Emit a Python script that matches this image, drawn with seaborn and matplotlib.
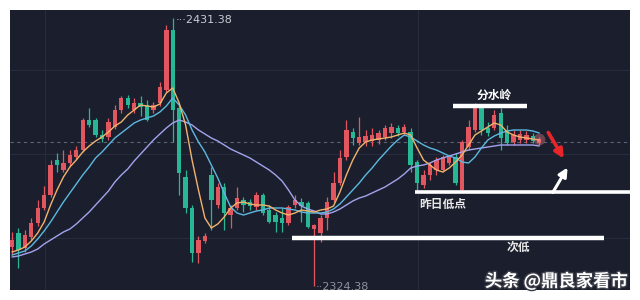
import matplotlib
matplotlib.use("Agg")
import matplotlib.pyplot as plt
import matplotlib.patheffects as pe
import numpy as np
import pandas as pd
import seaborn as sns

# ---------------- data ----------------
opens = [2339.8, 2345.4, 2339.4, 2343.8, 2349.4, 2355.4, 2360.6, 2374.6, 2370.6, 2373.4,
         2375.8, 2378.6, 2390.6, 2390.6, 2384.6, 2383.8, 2387.8, 2394.6, 2399.4, 2394.6,
         2397.4, 2396.6, 2394.6, 2397.4, 2402.6, 2426.6, 2395.4, 2367.8, 2355.4, 2337.4,
         2342.2, 2368.6, 2356.6, 2363.8, 2352.6, 2355.4, 2358.6, 2357.8, 2355.8, 2360.6,
         2354.6, 2352.6, 2351.4, 2349.4, 2356.6, 2357.8, 2357.4, 2347.0, 2345.4, 2351.4,
         2358.6, 2365.4, 2375.8, 2385.8, 2381.4, 2381.8, 2382.2, 2382.6, 2383.8, 2385.4,
         2387.4, 2385.8, 2385.8, 2373.8, 2364.6, 2368.6, 2370.6, 2370.6, 2373.4, 2375.8,
         2362.6, 2379.8, 2386.6, 2395.8, 2387.4, 2387.4, 2393.4, 2386.6, 2381.8, 2382.6,
         2382.6, 2384.2, 2381.4]
highs = [2345.8, 2347.4, 2346.6, 2351.4, 2358.6, 2364.2, 2374.6, 2377.4, 2378.6, 2378.6,
         2380.2, 2391.4, 2395.4, 2391.4, 2386.6, 2391.4, 2396.6, 2400.2, 2400.6, 2399.4,
         2400.2, 2398.6, 2397.8, 2405.8, 2428.6, 2431.38, 2396.6, 2370.6, 2356.6, 2344.2,
         2345.4, 2371.8, 2365.4, 2365.4, 2356.6, 2363.8, 2359.8, 2359.0, 2361.8, 2361.4,
         2356.6, 2353.8, 2355.4, 2356.6, 2360.6, 2359.4, 2358.2, 2349.0, 2352.6, 2359.8,
         2369.8, 2378.6, 2390.6, 2387.4, 2391.8, 2386.6, 2387.4, 2386.6, 2388.6, 2389.4,
         2388.6, 2389.0, 2387.4, 2374.6, 2370.6, 2373.8, 2375.8, 2376.6, 2376.6, 2377.4,
         2382.6, 2390.6, 2397.4, 2397.0, 2389.8, 2394.6, 2395.4, 2388.6, 2386.6, 2386.6,
         2386.2, 2385.4, 2383.8]
lows = [2336.6, 2331.4, 2337.8, 2342.6, 2348.2, 2354.6, 2359.8, 2369.8, 2369.8, 2372.2,
        2375.0, 2377.8, 2387.8, 2383.8, 2381.8, 2382.6, 2387.0, 2393.4, 2395.4, 2393.4,
        2392.2, 2390.2, 2393.4, 2396.2, 2401.8, 2381.8, 2360.6, 2353.4, 2333.8, 2333.4,
        2341.4, 2346.6, 2355.4, 2346.6, 2347.4, 2354.6, 2353.8, 2354.6, 2354.6, 2352.6,
        2349.4, 2345.8, 2345.8, 2348.6, 2355.4, 2349.8, 2347.4, 2324.38, 2341.8, 2346.6,
        2357.8, 2364.6, 2374.6, 2380.6, 2380.6, 2380.2, 2380.2, 2381.0, 2382.6, 2383.4,
        2384.2, 2384.6, 2369.8, 2361.8, 2363.4, 2366.6, 2368.6, 2369.8, 2372.6, 2364.6,
        2361.8, 2378.6, 2385.8, 2384.6, 2384.2, 2386.6, 2378.6, 2380.6, 2380.6, 2381.4,
        2381.4, 2381.4, 2380.6]
closes = [2342.6, 2338.6, 2344.6, 2349.4, 2355.4, 2360.6, 2372.6, 2372.6, 2373.4, 2376.6,
          2378.6, 2390.6, 2388.6, 2384.6, 2383.0, 2389.8, 2394.6, 2399.4, 2396.6, 2397.4,
          2395.8, 2390.6, 2396.6, 2403.8, 2426.6, 2394.6, 2369.4, 2355.4, 2337.4, 2342.6,
          2344.2, 2358.6, 2363.8, 2353.4, 2355.4, 2359.4, 2356.6, 2356.2, 2360.6, 2353.4,
          2349.8, 2349.8, 2349.4, 2355.8, 2358.6, 2356.2, 2347.8, 2348.6, 2351.4, 2357.8,
          2365.4, 2375.4, 2386.6, 2383.4, 2383.8, 2384.2, 2384.6, 2385.4, 2387.4, 2387.8,
          2385.4, 2387.8, 2372.6, 2365.4, 2368.6, 2372.6, 2374.6, 2375.8, 2375.8, 2365.4,
          2381.8, 2387.8, 2395.8, 2386.6, 2385.4, 2392.6, 2383.4, 2381.4, 2384.6, 2385.0,
          2384.6, 2382.2, 2383.0]

ma5 = [2337.8, 2338.6, 2339.8, 2342.2, 2345.4, 2349.8, 2356.6, 2362.6, 2367.8, 2371.8,
       2374.6, 2377.8, 2380.2, 2382.2, 2383.8, 2385.8, 2388.2, 2389.8, 2392.6, 2394.6,
       2396.6, 2396.2, 2395.8, 2397.0, 2401.4, 2403.4, 2397.4, 2388.6, 2374.6, 2362.6,
       2351.4, 2347.4, 2349.0, 2351.8, 2355.4, 2357.4, 2357.8, 2357.0, 2356.6, 2356.6,
       2356.2, 2354.6, 2353.4, 2352.6, 2353.4, 2354.6, 2354.2, 2353.8, 2354.6, 2355.0,
       2356.2, 2361.8, 2368.6, 2374.6, 2379.4, 2381.8, 2382.6, 2383.0, 2383.4, 2383.8,
       2384.6, 2385.4, 2384.6, 2379.4, 2374.6, 2372.6, 2370.6, 2369.8, 2371.4, 2373.8,
       2376.6, 2380.6, 2384.6, 2386.2, 2387.8, 2389.4, 2388.6, 2385.8, 2384.6, 2383.8,
       2383.4, 2383.0, 2382.6]
ma10 = [2336.6, 2337.4, 2338.2, 2340.2, 2343.0, 2346.2, 2349.8, 2353.8, 2357.8, 2361.4,
        2365.0, 2368.6, 2371.8, 2375.4, 2377.8, 2380.6, 2383.4, 2385.4, 2387.4, 2389.4,
        2390.6, 2391.4, 2392.2, 2393.8, 2396.2, 2399.4, 2396.6, 2392.6, 2386.6, 2381.8,
        2377.8, 2372.6, 2367.4, 2361.4, 2355.8, 2353.4, 2352.6, 2353.4, 2354.2, 2354.6,
        2355.4, 2355.4, 2355.4, 2355.0, 2354.6, 2353.8, 2353.4, 2353.4, 2353.4, 2353.8,
        2355.0, 2357.0, 2359.8, 2362.6, 2365.4, 2368.6, 2371.4, 2374.6, 2377.4, 2380.2,
        2382.6, 2384.6, 2383.8, 2382.2, 2380.6, 2379.4, 2378.6, 2377.4, 2376.2, 2375.4,
        2373.8, 2373.4, 2375.8, 2379.4, 2382.6, 2384.2, 2385.4, 2386.2, 2386.6, 2386.6,
        2386.6, 2386.2, 2385.4]
ma20 = [2335.8, 2336.2, 2337.0, 2337.8, 2339.0, 2341.0, 2342.6, 2344.2, 2345.8, 2347.0,
        2349.0, 2351.4, 2353.8, 2356.6, 2359.4, 2362.2, 2365.8, 2368.6, 2371.0, 2374.2,
        2377.0, 2379.8, 2382.6, 2385.0, 2387.4, 2389.4, 2390.6, 2389.8, 2388.6, 2386.6,
        2385.0, 2383.4, 2382.2, 2380.6, 2379.0, 2377.8, 2376.6, 2375.4, 2373.8, 2372.2,
        2370.6, 2368.6, 2366.2, 2362.6, 2358.6, 2356.2, 2355.0, 2354.2, 2353.0, 2353.0,
        2353.8, 2355.0, 2356.6, 2358.2, 2359.4, 2360.2, 2361.4, 2362.6, 2363.8, 2365.4,
        2367.0, 2369.0, 2371.4, 2372.2, 2372.6, 2373.4, 2374.6, 2375.4, 2376.2, 2377.0,
        2377.8, 2378.6, 2379.0, 2379.4, 2379.8, 2380.2, 2380.6, 2380.6, 2380.6, 2380.6,
        2380.6, 2380.6, 2380.2]

peak_label = "2431.38"
low_label = "2324.38"
last_price = 2381.8
level_watershed = 2396.2      # 分水岭
level_yday_low = 2361.8       # 昨日低点
level_second_low = 2343.4     # 次低
grid_prices = [2410.6, 2377.0, 2343.4]
watermark = "头条 @鼎良家看市"

# ---------------- styling ----------------
sns.set_theme(style="dark")
plt.rcParams['font.family'] = ['Noto Sans CJK SC', 'DejaVu Sans']

BG = '#1b1f2d'
RED = '#e2575f'
GREEN = '#27b795'
ORANGE = '#f1b36c'
CYAN = '#5cb8e0'
LAV = '#a3a3ee'

fig = plt.figure(figsize=(6.4, 3.0), dpi=100, facecolor='white')
ax = fig.add_axes([10 / 640, 10 / 300, 620 / 640, 280 / 300])
ax.set_facecolor(BG)
ax.grid(False)
for s in ax.spines.values():
    s.set_visible(False)
ax.set_xticks([])
ax.set_yticks([])
ax.set_xlim(-0.31, 96.11)
ax.set_ylim(2322.6, 2434.6)

n = len(closes)
idx = np.arange(n)

# grid
for gp in grid_prices:
    ax.axhline(gp, color='#262c3c', lw=0.8, zorder=0)
for gx in [5.1, 63.1]:
    ax.axvline(gx, color='#262c3c', lw=0.8, zorder=0)
ax.axhline(last_price, color='#5e6374', lw=0.8, ls=(0, (3, 3)), zorder=1)

# candles
o = np.array(opens); c = np.array(closes); h = np.array(highs); l = np.array(lows)
up = c >= o
cols = np.where(up, RED, GREEN)
ax.vlines(idx, l, h, colors=cols, lw=0.9, zorder=2)
body_bottom = np.minimum(o, c)
body_h = np.maximum(np.abs(c - o), 0.4)
ax.bar(idx, body_h, bottom=body_bottom, width=0.68, color=cols, zorder=3, linewidth=0)

# moving averages
df = pd.DataFrame({'idx': np.concatenate([idx, idx, idx]),
                   'value': ma5 + ma10 + ma20,
                   'ma': ['MA5'] * n + ['MA10'] * n + ['MA20'] * n})
sns.lineplot(data=df, x='idx', y='value', hue='ma',
             palette={'MA5': ORANGE, 'MA10': CYAN, 'MA20': LAV},
             hue_order=['MA20', 'MA10', 'MA5'],
             legend=False, lw=1.0, ax=ax, zorder=4)
ax.set_xlabel('')
ax.set_ylabel('')
ax.set_xlim(-0.31, 96.11)
ax.set_ylim(2322.6, 2434.6)
ax.set_xticks([])
ax.set_yticks([])

# highlight glow on last candle
ax.scatter([n - 1], [closes[-1]], s=70, color='#ff8a96', alpha=0.35, zorder=5, linewidths=0)

# high / low labels
ax.text(25.5, 2430.7, "···" + peak_label, color='#c9ccd4', fontsize=8,
        ha='left', va='center', family=['DejaVu Sans'], zorder=6)
ax.text(47.3, 2323.6, "··" + low_label, color='#8d919c', fontsize=8,
        ha='left', va='center', family=['DejaVu Sans'], zorder=6, clip_on=True)

# level lines & notes
ax.hlines(level_watershed, 68.6, 80.1, color='white', lw=3.2, zorder=7)
ax.text(75.0, 2400.4, "分水岭", color='white', fontsize=8.5, fontweight='bold',
        ha='center', va='center', zorder=7)
ax.hlines(level_yday_low, 62.7, 96.2, color='white', lw=2.6, zorder=7)
ax.text(63.3, 2357.0, "昨日低点", color='#e8e8e8', fontsize=8.5, fontweight='bold',
        ha='left', va='center', zorder=7)
ax.hlines(level_second_low, 43.5, 92.1, color='white', lw=3.2, zorder=7)
ax.text(78.8, 2339.8, "次低", color='#e8e8e8', fontsize=8.5, fontweight='bold',
        ha='center', va='center', zorder=7)

# arrows
ax.annotate('', xy=(85.8, 2375.2), xytext=(83.4, 2385.6),
            arrowprops=dict(arrowstyle='-|>', color='#e8262a', lw=2.6,
                            mutation_scale=13, shrinkA=0, shrinkB=0), zorder=8)
ax.annotate('', xy=(86.4, 2371.6), xytext=(84.1, 2361.6),
            arrowprops=dict(arrowstyle='-|>', color='white', lw=2.2,
                            mutation_scale=13, shrinkA=0, shrinkB=0), zorder=8)

# watermark
fig.text(628 / 640, 1 - 281 / 300, watermark, color='white', fontsize=12.5,
         fontweight='bold', ha='right', va='center',
         path_effects=[pe.withStroke(linewidth=2, foreground='#3a3d48')])

fig.savefig('out.png', dpi=100, facecolor='white')
